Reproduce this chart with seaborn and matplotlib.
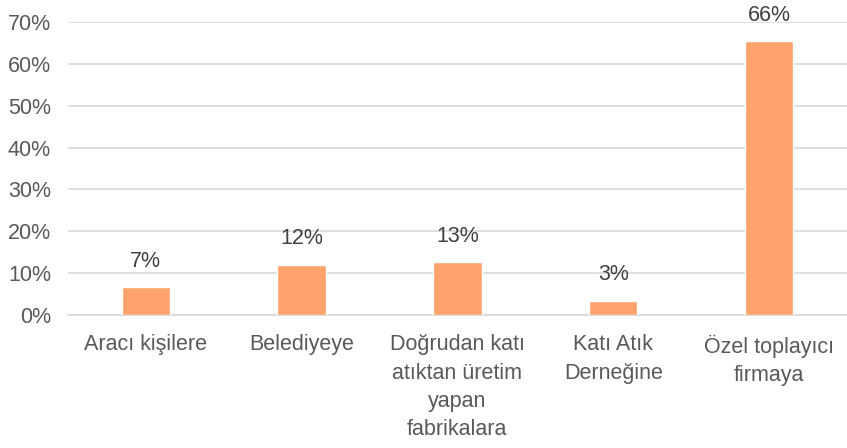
import matplotlib
matplotlib.use("Agg")
import matplotlib.pyplot as plt
import seaborn as sns
import pandas as pd

# données
categories = ["Aracı kişilere", "Belediyeye",
              "Doğrudan katı\natıktan üretim\nyapan\nfabrikalara",
              "Katı Atık\nDerneğine", "Özel toplayıcı\nfirmaya"]
values = [6.6, 12.0, 12.6, 3.4, 65.5]
yticks = [0, 10, 20, 30, 40, 50, 60, 70]

df = pd.DataFrame({"cat": categories, "val": values})

sns.set_theme(style="white")
plt.rcParams['font.family'] = ['Liberation Sans', 'DejaVu Sans']

fig = plt.figure(figsize=(8.47, 4.48), dpi=100)
ax = fig.add_axes([0.080, 0.297, 0.92, 0.654])

sns.barplot(data=df, x="cat", y="val", color="#FFA26B", saturation=1,
            width=0.31, ax=ax, zorder=3)

for c in ax.containers:
    ax.bar_label(c, fmt='%.0f%%', padding=11, fontsize=15.5, color="#404040")

ax.set_ylim(0, 70)
ax.set_yticks(yticks)
ax.set_yticklabels([f"{t}%" for t in yticks])
ax.grid(axis="y", color="#D9D9D9", linewidth=1.2, zorder=0)
for s in ["top", "right", "left"]:
    ax.spines[s].set_visible(False)
ax.spines["bottom"].set_color("#D9D9D9")
ax.spines["bottom"].set_linewidth(1.2)
ax.tick_params(axis="y", length=0, pad=12, labelsize=15.5, labelcolor="#595959")
ax.tick_params(axis="x", length=0, pad=14, labelsize=15.5, labelcolor="#595959")
for lbl in ax.get_xticklabels():
    lbl.set_linespacing(1.45)
ax.set_xlabel("")
ax.set_ylabel("")

fig.savefig("out.png", dpi=100)
